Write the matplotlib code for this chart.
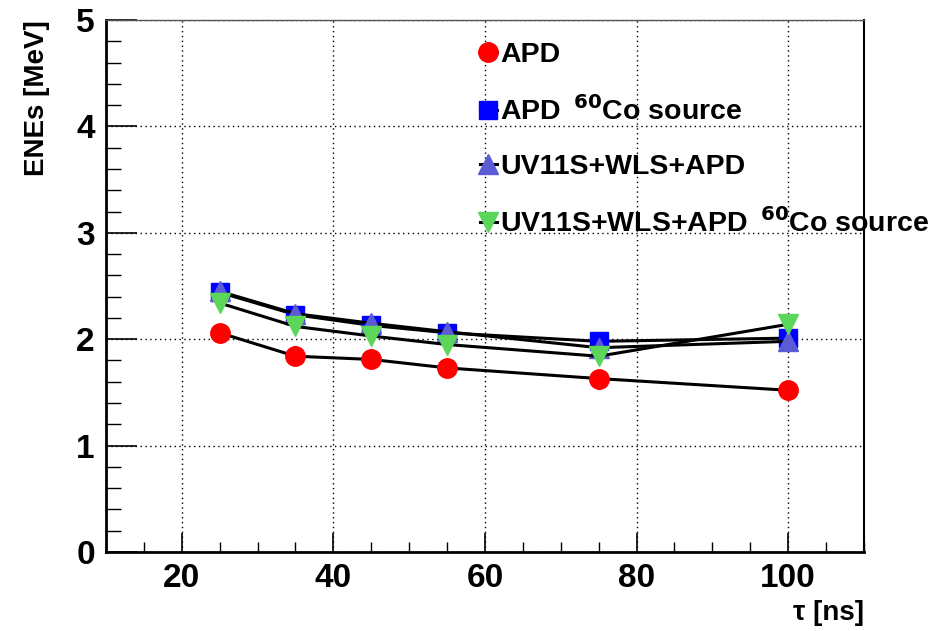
import matplotlib.pyplot as plt
from matplotlib.ticker import MultipleLocator

plt.rcParams['font.family'] = ['Liberation Sans', 'DejaVu Sans']
plt.rcParams['font.weight'] = 'bold'

# shaping time [ns]
tau = [25, 35, 45, 55, 75, 100]

# ENEs [MeV]
apd = [2.06, 1.84, 1.81, 1.73, 1.63, 1.52]
apd_co = [2.44, 2.23, 2.13, 2.06, 1.98, 2.01]
uv_apd = [2.45, 2.24, 2.15, 2.07, 1.92, 1.98]
uv_apd_co = [2.34, 2.12, 2.03, 1.95, 1.84, 2.14]

labels = ['APD',
          r'APD $\,^{\mathbf{60}}$Co source',
          'UV11S+WLS+APD',
          r'UV11S+WLS+APD $\,^{\mathbf{60}}$Co source']

fig = plt.figure(figsize=(9.37, 6.31), dpi=100)
ax = fig.add_axes([0.1131, 0.1252, 0.809, 0.8431])

ax.plot(tau, apd, color='black', lw=2.2, marker='o', ms=14,
        mfc='#ff0000', mec='#ff0000', label=labels[0], zorder=3)
ax.plot(tau, apd_co, color='black', lw=2.2, marker='s', ms=13,
        mfc='#0000ff', mec='#0000ff', label=labels[1], zorder=3)
ax.plot(tau, uv_apd, color='black', lw=2.2, marker='^', ms=14,
        mfc='#5b5bd6', mec='#5b5bd6', label=labels[2], zorder=3)
ax.plot(tau, uv_apd_co, color='black', lw=2.2, marker='v', ms=14,
        mfc='#5bd65b', mec='#5bd65b', label=labels[3], zorder=3)

ax.set_xlim(10, 110)
ax.set_ylim(0, 5)
ax.xaxis.set_major_locator(MultipleLocator(20))
ax.xaxis.set_minor_locator(MultipleLocator(5))
ax.yaxis.set_major_locator(MultipleLocator(1))
ax.yaxis.set_minor_locator(MultipleLocator(0.2))

ax.grid(True, which='major', color='black', linestyle=(0, (1, 2.5)), lw=1.0)
ax.tick_params(axis='both', which='both', direction='in', color='black',
               labelsize=24, top=False, right=False)
ax.tick_params(axis='y', which='major', length=22, width=1.2, pad=8)
ax.tick_params(axis='y', which='minor', length=11, width=1.0)
ax.tick_params(axis='x', which='major', length=14, width=1.2, pad=8)
ax.tick_params(axis='x', which='minor', length=7, width=1.0)
for lbl in ax.get_xticklabels() + ax.get_yticklabels():
    lbl.set_fontweight('bold')

ax.spines['left'].set_linewidth(2)
ax.spines['bottom'].set_linewidth(2)
ax.spines['right'].set_linewidth(1.5)
ax.spines['top'].set_linewidth(1.0)
ax.spines['top'].set_color('#555555')

ax.set_ylabel('ENEs [MeV]', fontsize=20, fontweight='bold', loc='top', labelpad=19)
ax.set_xlabel('τ [ns]', fontsize=20, fontweight='bold', loc='right', labelpad=4)

leg = ax.legend(loc='upper left', bbox_to_anchor=(0.478, 0.98), frameon=False,
                fontsize=20.5, handlelength=0.6, handletextpad=0.12,
                labelspacing=0.98, borderaxespad=0)
for t in leg.get_texts():
    t.set_fontweight('bold')

fig.savefig('out.png', dpi=100)
